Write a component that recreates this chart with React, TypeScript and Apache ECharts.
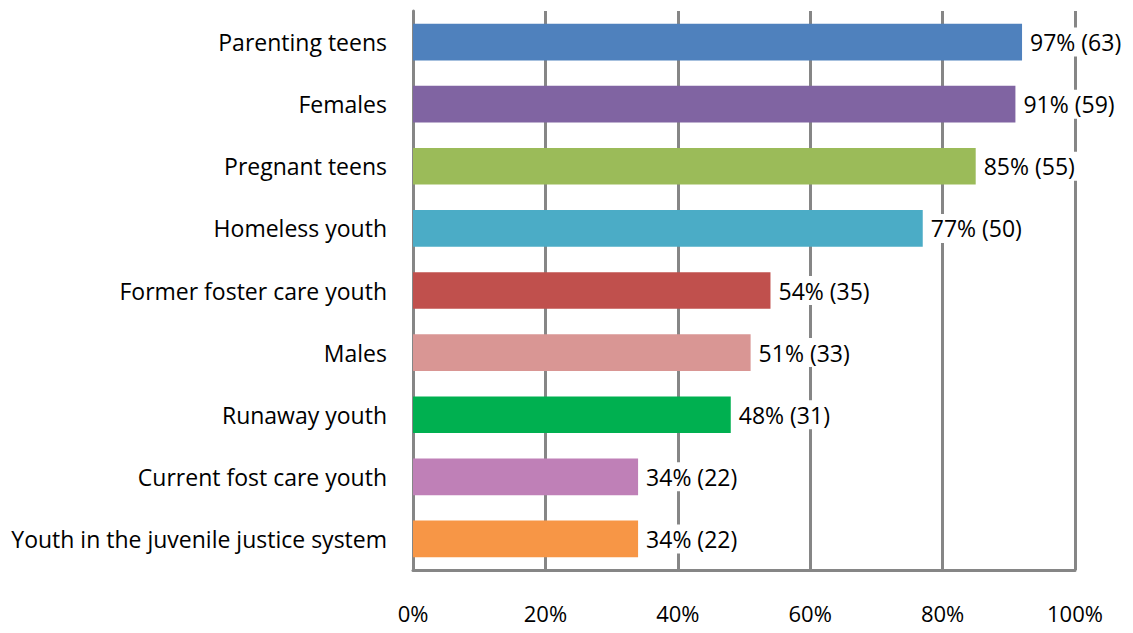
import React, { useEffect, useRef } from "react";
import * as echarts from "echarts";

const categories = [
  "Parenting teens",
  "Females",
  "Pregnant teens",
  "Homeless youth",
  "Former foster care youth",
  "Males",
  "Runaway youth",
  "Current fost care youth",
  "Youth in the juvenile justice system",
];
// bar lengths as drawn (%)
const barValues = [92, 91, 85, 77, 54, 51, 48, 34, 34];
// printed percentages and counts
const labelPercents = [97, 91, 85, 77, 54, 51, 48, 34, 34];
const labelCounts = [63, 59, 55, 50, 35, 33, 31, 22, 22];
const barColors = [
  "#4F81BD",
  "#8064A2",
  "#9BBB59",
  "#4BACC6",
  "#C0504D",
  "#D99694",
  "#00B050",
  "#BF80B7",
  "#F79646",
];
const xTicks = [0, 20, 40, 60, 80, 100];

const FONT = "'Open Sans', 'Noto Sans', sans-serif";

export default function App() {
  const ref = useRef<HTMLDivElement>(null);
  useEffect(() => {
    if (!ref.current) return;
    const chart = echarts.init(ref.current, undefined, { renderer: "svg" });
    chart.setOption({
      animation: false,
      backgroundColor: "#ffffff",
      grid: { left: 413, right: 58, top: 11, bottom: 63, containLabel: false },
      xAxis: {
        type: "value",
        min: xTicks[0],
        max: xTicks[xTicks.length - 1],
        interval: 20,
        axisLine: { show: true, lineStyle: { color: "#868686", width: 3 } },
        axisTick: { show: false },
        splitLine: { show: true, lineStyle: { color: "#868686", width: 3 } },
        axisLabel: {
          formatter: (v: number) => `${v}%`,
          fontFamily: FONT,
          fontSize: 22,
          color: "#000",
          margin: 32,
        },
      },
      yAxis: {
        type: "category",
        data: categories,
        inverse: true,
        axisLine: { show: true, lineStyle: { color: "#868686", width: 3 } },
        axisTick: { show: false },
        axisLabel: {
          fontFamily: FONT,
          fontSize: 23,
          color: "#000",
          margin: 26,
        },
      },
      series: [
        {
          type: "bar",
          barWidth: "59%",
          data: barValues.map((v, i) => ({
            value: v,
            itemStyle: { color: barColors[i] },
          })),
          label: {
            show: true,
            position: "right",
            distance: 4,
            formatter: (p: any) =>
              `${labelPercents[p.dataIndex]}% (${labelCounts[p.dataIndex]})`,
            fontFamily: FONT,
            fontSize: 23,
            color: "#000",
            backgroundColor: "#ffffff",
            padding: [3, 4],
          },
        },
      ],
    });
    return () => chart.dispose();
  }, []);
  return (
    <div
      ref={ref}
      style={{ position: "absolute", left: 0, top: 0, width: 1133, height: 633 }}
    />
  );
}
